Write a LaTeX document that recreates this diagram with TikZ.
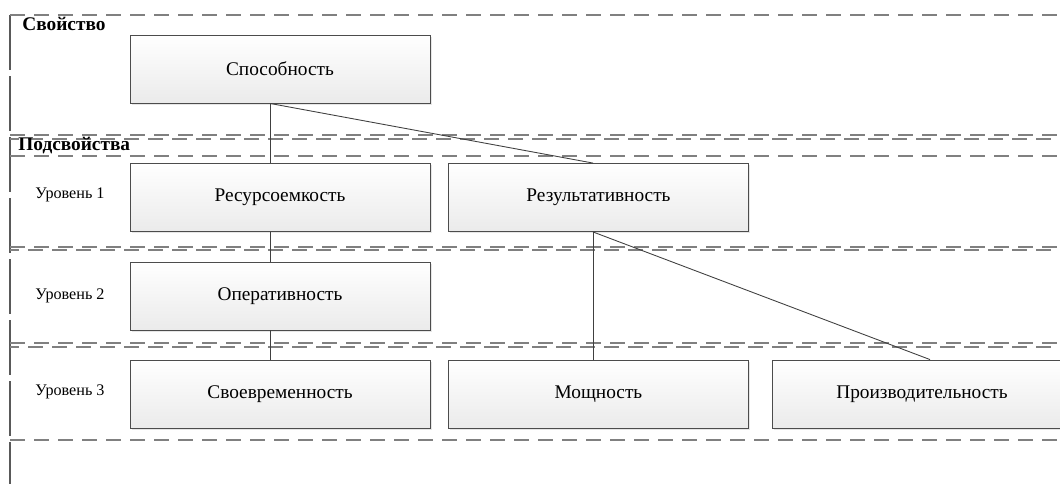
\documentclass[tikz,border=0pt]{standalone}
\usepackage{fontspec}
\setmainfont{Liberation Serif}
\usetikzlibrary{shadows}
\tikzset{
  box/.style={draw=black!70, line width=0.5pt, minimum width=6cm, minimum height=1.36cm,
              top color=white, bottom color=black!8, font=\fontsize{11}{13}\selectfont,
              drop shadow={opacity=0.2, shadow xshift=1pt, shadow yshift=-1pt}},
  lane/.style={draw=black!50, line width=0.8pt, dash pattern=on 0.3cm off 0.18cm},
  lane2/.style={lane, dash phase=0.12cm},
  border/.style={draw=black!65, line width=0.7pt, dash pattern=on 1.1cm off 0.12cm},
  link/.style={draw=black!75, line width=0.5pt},
  lvl/.style={font=\fontsize{9.2}{11}\selectfont},
  head/.style={font=\bfseries\fontsize{11}{13}\selectfont, anchor=west, inner sep=0pt},
}

\begin{document}
\begin{tikzpicture}
  \useasboundingbox (0,0) rectangle (21.2,-9.66);
  \clip (0,0) rectangle (21.2,-9.66);

  % ---------- lanes ----------
  \draw[border] (0.2,-0.3) -- (0.2,-9.7);
  \draw[lane] (0.2,-0.3) -- (21.2,-0.3);
  \draw[lane] (0.2,-2.70) -- (21.2,-2.70);
  \draw[lane2] (0.2,-2.78) -- (21.2,-2.78);
  \draw[lane] (0.2,-3.12) -- (21.2,-3.12);
  \draw[lane] (0.2,-4.94) -- (21.2,-4.94);
  \draw[lane2] (0.2,-5.00) -- (21.2,-5.00);
  \draw[lane] (0.2,-6.86) -- (21.2,-6.86);
  \draw[lane2] (0.2,-6.94) -- (21.2,-6.94);
  \draw[lane] (0.2,-8.80) -- (21.2,-8.80);

  \node[head] (prop) at (0.44,-0.48) {Свойство};
  \node[head] (subprop) at (0.36,-2.92) {Подсвойства};
  \node[lvl] (lvlA) at (1.4,-3.9) {Уровень 1};
  \node[lvl] (lvlB) at (1.4,-5.92) {Уровень 2};
  \node[lvl] (lvlC) at (1.4,-7.84) {Уровень 3};

  % ---------- boxes ----------
  \node[box] (sposob) at (5.6,-1.38) {Способность};
  \node[box] (resurs) at (5.6,-3.95) {Ресурсоемкость};
  \node[box] (rezult) at (11.97,-3.95) {Результативность};
  \node[box] (operat) at (5.6,-5.92) {Оперативность};
  \node[box] (svoevr) at (5.6,-7.88) {Своевременность};
  \node[box] (moshch) at (11.97,-7.88) {Мощность};
  \node[box] (proizv) at (18.44,-7.88) {Производительность};

  % ---------- links ----------
  \coordinate (sposobOut) at ([xshift=-0.2cm]sposob.south);
  \coordinate (rezultIn) at ([xshift=-0.11cm]rezult.north);
  \coordinate (rezultOut) at ([xshift=-0.11cm]rezult.south);
  \coordinate (proizvIn) at ([xshift=0.16cm]proizv.north);

  \draw[link] (sposobOut) -- ([xshift=-0.2cm]resurs.north);
  \draw[link] (sposobOut) -- (rezultIn);
  \draw[link] ([xshift=-0.2cm]resurs.south) -- ([xshift=-0.2cm]operat.north);
  \draw[link] ([xshift=-0.2cm]operat.south) -- ([xshift=-0.2cm]svoevr.north);
  \draw[link] (rezultOut) -- ([xshift=-0.11cm]moshch.north);
  \draw[link] (rezultOut) -- (proizvIn);

\end{tikzpicture}
\end{document}
